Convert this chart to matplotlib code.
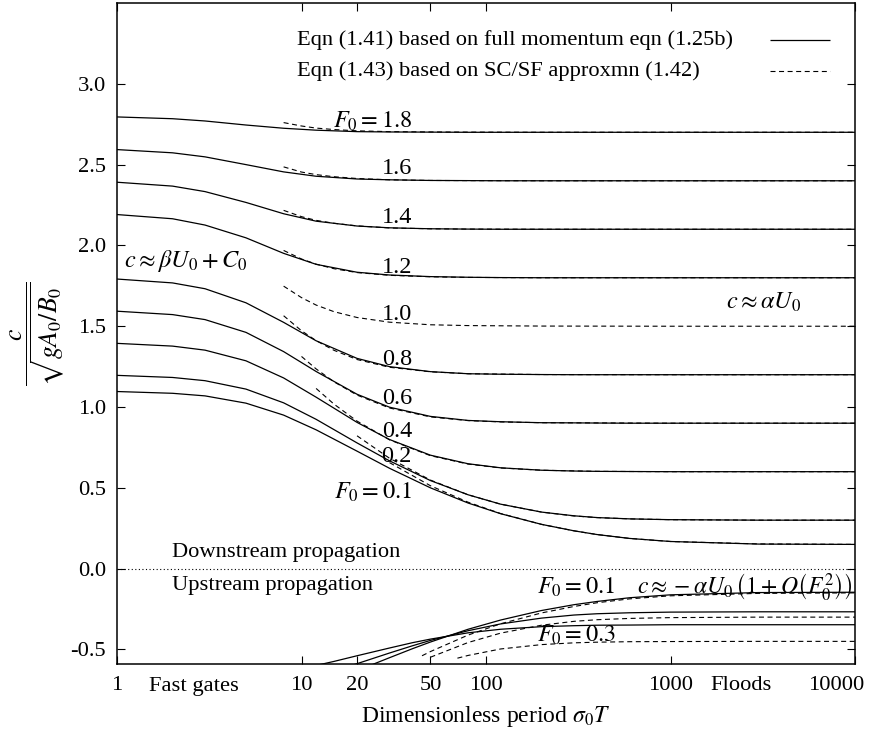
import matplotlib.pyplot as plt

plt.rcParams['font.family'] = ['Liberation Serif', 'DejaVu Serif']
plt.rcParams['mathtext.fontset'] = 'stix'
plt.rcParams['axes.unicode_minus'] = False

# dimensionless period sigma0*T used for the full momentum curves
period = [1, 2, 3, 5, 8, 12, 20, 30, 50, 80, 120, 200, 300, 400, 600, 1000, 3000, 10000]

# downstream celerity c/sqrt(gA0/B0), full momentum eqn, by Froude number
c_full_18 = [2.795, 2.784, 2.770, 2.745, 2.725, 2.713, 2.704, 2.702, 2.701, 2.700, 2.700, 2.700, 2.700, 2.700, 2.700, 2.700, 2.700, 2.700]
c_full_16 = [2.593, 2.573, 2.548, 2.500, 2.455, 2.428, 2.411, 2.406, 2.402, 2.401, 2.400, 2.400, 2.400, 2.400, 2.400, 2.400, 2.400, 2.400]
c_full_14 = [2.391, 2.367, 2.333, 2.266, 2.196, 2.150, 2.120, 2.109, 2.103, 2.101, 2.100, 2.100, 2.100, 2.100, 2.100, 2.100, 2.100, 2.100]
c_full_12 = [2.191, 2.165, 2.126, 2.047, 1.951, 1.883, 1.834, 1.817, 1.807, 1.803, 1.801, 1.800, 1.800, 1.800, 1.800, 1.800, 1.800, 1.800]
c_full_08 = [1.792, 1.768, 1.732, 1.645, 1.524, 1.410, 1.301, 1.250, 1.219, 1.206, 1.203, 1.201, 1.200, 1.200, 1.200, 1.200, 1.200, 1.200]
c_full_06 = [1.593, 1.572, 1.541, 1.462, 1.343, 1.220, 1.079, 0.999, 0.942, 0.917, 0.909, 0.903, 0.902, 0.901, 0.900, 0.900, 0.900, 0.900]
c_full_04 = [1.394, 1.377, 1.352, 1.286, 1.180, 1.061, 0.905, 0.799, 0.702, 0.649, 0.624, 0.609, 0.604, 0.602, 0.601, 0.600, 0.600, 0.600]
c_full_02 = [1.196, 1.183, 1.163, 1.111, 1.026, 0.924, 0.778, 0.667, 0.545, 0.457, 0.399, 0.350, 0.327, 0.316, 0.308, 0.303, 0.300, 0.300]
c_full_01 = [1.096, 1.085, 1.069, 1.024, 0.950, 0.859, 0.727, 0.621, 0.500, 0.406, 0.340, 0.274, 0.234, 0.211, 0.187, 0.168, 0.152, 0.150]

# downstream celerity, SC/SF approximation (dashed)
sc_period_hi = [8, 10, 12, 15, 20, 30, 50, 80, 200, 1000, 10000]
c_sc_18 = [2.760, 2.739, 2.726, 2.717, 2.709, 2.704, 2.702, 2.701, 2.700, 2.700, 2.700]
c_sc_16 = [2.486, 2.454, 2.438, 2.425, 2.414, 2.406, 2.402, 2.401, 2.400, 2.400, 2.400]
c_sc_14 = [2.217, 2.178, 2.155, 2.137, 2.121, 2.108, 2.103, 2.101, 2.100, 2.100, 2.100]
c_sc_12 = [1.969, 1.916, 1.884, 1.856, 1.832, 1.815, 1.806, 1.802, 1.800, 1.800, 1.800]
c_sc_10 = [1.748, 1.677, 1.631, 1.590, 1.554, 1.525, 1.509, 1.504, 1.501, 1.500, 1.500]
c_sc_08 = [1.565, 1.472, 1.411, 1.351, 1.294, 1.246, 1.218, 1.206, 1.201, 1.200, 1.200]
sc_period_06 = [10, 12, 15, 20, 30, 50, 80, 120, 200, 1000, 10000]
c_sc_06 = [1.313, 1.236, 1.156, 1.074, 0.994, 0.939, 0.916, 0.908, 0.903, 0.900, 0.900]
sc_period_04 = [12, 15, 20, 30, 50, 80, 120, 200, 400, 1000, 10000]
c_sc_04 = [1.115, 1.018, 0.913, 0.797, 0.699, 0.647, 0.623, 0.609, 0.602, 0.600, 0.600]
sc_period_02 = [20, 30, 50, 80, 120, 200, 300, 400, 600, 1000, 3000, 10000]
c_sc_02 = [0.822, 0.683, 0.548, 0.457, 0.399, 0.350, 0.326, 0.316, 0.308, 0.303, 0.300, 0.300]
sc_period_01 = [30, 50, 80, 120, 200, 300, 400, 600, 1000, 3000, 10000]
c_sc_01 = [0.656, 0.513, 0.411, 0.341, 0.274, 0.234, 0.211, 0.187, 0.168, 0.153, 0.150]

# upstream celerity, full momentum eqn
up_period_01 = [20, 25, 30, 40, 50, 80, 120, 200, 300, 400, 600, 1000, 3000, 10000]
c_up_01 = [-0.634, -0.587, -0.551, -0.495, -0.454, -0.375, -0.318, -0.259, -0.223, -0.203, -0.180, -0.162, -0.148, -0.146]
up_period_02 = [15, 20, 30, 40, 50, 80, 120, 200, 300, 400, 600, 1000, 3000, 10000]
c_up_02 = [-0.634, -0.588, -0.522, -0.477, -0.444, -0.384, -0.342, -0.306, -0.287, -0.279, -0.273, -0.269, -0.267, -0.267]
up_period_03 = [10, 12, 15, 20, 30, 40, 50, 80, 120, 200, 300, 400, 600, 1000, 10000]
c_up_03 = [-0.618, -0.599, -0.574, -0.539, -0.491, -0.458, -0.436, -0.397, -0.375, -0.359, -0.353, -0.350, -0.349, -0.347, -0.347]

# upstream celerity, SC/SF approximation
sc_up_period_01 = [45, 50, 80, 120, 200, 300, 400, 600, 1000, 3000, 10000]
c_sc_up_01 = [-0.539, -0.513, -0.411, -0.341, -0.274, -0.234, -0.211, -0.187, -0.168, -0.153, -0.150]
sc_up_period_02 = [50, 80, 120, 200, 300, 400, 600, 1000, 3000, 10000]
c_sc_up_02 = [-0.548, -0.457, -0.399, -0.350, -0.326, -0.316, -0.308, -0.303, -0.300, -0.300]
sc_up_period_03 = [70, 80, 120, 200, 300, 400, 600, 1000, 3000, 10000]
c_sc_up_03 = [-0.554, -0.537, -0.497, -0.470, -0.459, -0.455, -0.452, -0.451, -0.450, -0.450]

x_ticks = [1, 10, 20, 50, 100, 1000, 10000]
x_tick_labels = ['1', '10', '20', '50', '100', '1000', '']
y_ticks = [-0.5, 0.0, 0.5, 1.0, 1.5, 2.0, 2.5, 3.0]

fs = 16.2
mfs = 17.5
full_kw = dict(color='black', lw=0.9, solid_capstyle='butt')
sc_kw = dict(color='black', lw=0.8, linestyle=(0, (4.5, 3.2)))

fig = plt.figure(figsize=(8.69, 7.33), dpi=100)
ax = fig.add_axes([117 / 869, 1 - 664 / 733, 738 / 869, 661 / 733])
ax.set_xscale('log')

for c in [c_full_18, c_full_16, c_full_14, c_full_12, c_full_08,
          c_full_06, c_full_04, c_full_02, c_full_01]:
    ax.plot(period, c, **full_kw)

for c in [c_sc_18, c_sc_16, c_sc_14, c_sc_12, c_sc_10, c_sc_08]:
    ax.plot(sc_period_hi, c, **sc_kw)
ax.plot(sc_period_06, c_sc_06, **sc_kw)
ax.plot(sc_period_04, c_sc_04, **sc_kw)
ax.plot(sc_period_02, c_sc_02, **sc_kw)
ax.plot(sc_period_01, c_sc_01, **sc_kw)

ax.plot(up_period_01, c_up_01, **full_kw)
ax.plot(up_period_02, c_up_02, **full_kw)
ax.plot(up_period_03, c_up_03, **full_kw)
ax.plot(sc_up_period_01, c_sc_up_01, **sc_kw)
ax.plot(sc_up_period_02, c_sc_up_02, **sc_kw)
ax.plot(sc_up_period_03, c_sc_up_03, **sc_kw)

ax.axhline(0.0, color='black', lw=0.8, linestyle=(0, (1, 2.2)))

ax.set_xlim(1, 10000)
ax.set_ylim(-0.59, 3.5)

ax.set_xticks(x_ticks, x_tick_labels)
# extra labels along the x axis, 10000 is nudged left like in the original
ax.set_xticks([2.6, 2426, 7890], ['Fast gates', 'Floods', '10000'], minor=True)
ax.set_yticks(y_ticks, ['%.1f' % v for v in y_ticks])
ax.tick_params(which='both', direction='in', top=True, right=True, labelsize=fs)
ax.tick_params(which='major', length=6, width=0.8)
ax.tick_params(which='minor', length=0)
ax.tick_params(axis='x', which='both', pad=9)
ax.tick_params(axis='y', pad=8)
for s in ax.spines.values():
    s.set_linewidth(1.1)

ax.set_xlabel(r'Dimensionless period $\sigma_0 T$', fontsize=17, labelpad=6)
ax.set_ylabel(r'$\dfrac{c}{\sqrt{gA_0/B_0}}$', fontsize=18.5, labelpad=2)

# key
ax.text(0.2439, 0.944, 'Eqn (1.41) based on full momentum eqn (1.25b)',
        transform=ax.transAxes, ha='left', va='center', fontsize=fs)
ax.text(0.2439, 0.897, 'Eqn (1.43) based on SC/SF approxmn (1.42)',
        transform=ax.transAxes, ha='left', va='center', fontsize=fs)
ax.plot([0.8848, 0.9661], [0.944, 0.944], transform=ax.transAxes, **full_kw)
ax.plot([0.8848, 0.9661], [0.897, 0.897], transform=ax.transAxes, **sc_kw)

# curve labels
lab_x = 39.7
ax.text(lab_x, 2.729, r'$F_0 = 1.8$', ha='right', va='baseline', fontsize=mfs)
for txt, yb in [('1.6', 2.440), ('1.4', 2.139), ('1.2', 1.828), ('1.0', 1.540),
                ('0.8', 1.257), ('0.6', 1.017), ('0.4', 0.814), ('0.2', 0.659)]:
    ax.text(lab_x, yb, txt, ha='right', va='baseline', fontsize=mfs)
ax.text(lab_x, 0.43, r'$F_0 = 0.1$', ha='right', va='baseline', fontsize=mfs)

ax.text(1.087, 1.867, r'$c \approx \beta U_0 + C_0$', ha='left', va='baseline', fontsize=mfs)
ax.text(1999, 1.611, r'$c \approx \alpha U_0$', ha='left', va='baseline', fontsize=mfs)
ax.text(1.98, 0.074, 'Downstream propagation', ha='left', va='baseline', fontsize=fs)
ax.text(1.98, -0.132, 'Upstream propagation', ha='left', va='baseline', fontsize=fs)
ax.text(189, -0.157, r'$F_0 = 0.1$', ha='left', va='baseline', fontsize=mfs)
ax.text(9750, -0.157, r'$c \approx -\alpha U_0\,\left(1+O\left(F_0^2\right)\right)$',
        ha='right', va='baseline', fontsize=17)
ax.text(189, -0.454, r'$F_0 = 0.3$', ha='left', va='baseline', fontsize=mfs)

fig.savefig('out.png', dpi=100)
